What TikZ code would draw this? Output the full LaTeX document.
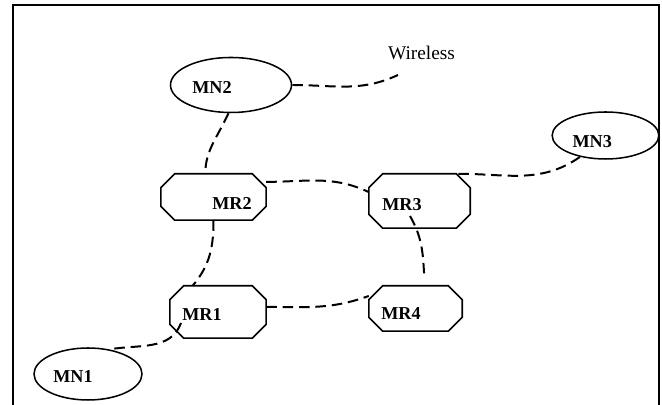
\documentclass[tikz,border=0pt]{standalone}
\usepackage{fontspec}
\setmainfont{Liberation Serif}
\usetikzlibrary{shapes.geometric}

\begin{document}
\begin{tikzpicture}[x=0.03cm,y=0.03cm,
    link/.style={line width=1.7pt,dash pattern=on 9pt off 5pt},
    router/.style={rectangle,inner sep=0pt},
    mobile/.style={ellipse,draw,line width=1.3pt,inner sep=0pt},
    tag/.style={font=\fontsize{15.5}{18}\selectfont\bfseries}]
    \useasboundingbox (0,0) rectangle (662,405);
    \draw[line width=1.3pt] (13,-5) -- (13,400) -- (659,400) -- (659,-5);
    % mobile nodes
    \node[mobile,minimum width=3.63cm,minimum height=1.65cm,
      label={[tag,xshift=-0.57cm,yshift=-0.06cm]center:MN2}] (mn2) at (231,320) {};
    \node[mobile,minimum width=3.2cm,minimum height=1.41cm,
      label={[tag,xshift=-0.4cm,yshift=-0.19cm]center:MN3}] (mn3) at (605.5,269.5) {};
    \node[mobile,minimum width=3.24cm,minimum height=1.56cm,
      label={[tag,xshift=-0.45cm,yshift=-0.09cm]center:MN1}] (mn1) at (88,31) {};
    % mesh routers
    \node[router,minimum width=3.15cm,minimum height=1.38cm,
      label={[tag,xshift=0.555cm,yshift=-0.18cm]center:MR2}] (mr2) at (213.5,208) {};
    \node[router,minimum width=3.03cm,minimum height=1.62cm,
      label={[tag,xshift=-0.525cm,yshift=-0.1cm]center:MR3}] (mr3) at (419.5,204) {};
    \node[router,minimum width=2.88cm,minimum height=1.56cm,
      label={[tag,xshift=-0.48cm,yshift=-0.09cm]center:MR1}] (mr1) at (218,93) {};
    \node[router,minimum width=2.79cm,minimum height=1.35cm,
      label={[tag,xshift=-0.435cm,yshift=-0.165cm]center:MR4}] (mr4) at (415.5,96.5) {};
    % octagon outlines
    \foreach \r in {mr1,mr2,mr3,mr4}
      \draw[line width=1.3pt] ([xshift=0.42cm]\r.north west) -- ([xshift=-0.42cm]\r.north east)
        -- ([yshift=-0.42cm]\r.north east) -- ([yshift=0.42cm]\r.south east)
        -- ([xshift=-0.42cm]\r.south east) -- ([xshift=0.42cm]\r.south west)
        -- ([yshift=0.42cm]\r.south west) -- ([yshift=-0.42cm]\r.north west) -- cycle;
    \node[font=\fontsize{16.5}{19}\selectfont] (wireless) at (421.5,352) {Wireless};
    \coordinate (wlend) at (398,330);
    \coordinate (mr3out) at (410,189);
    \coordinate (mr1out) at (181,82);
    % wireless links
    \draw[link] (mn2.east) to[out=0,in=-155] (wlend);
    \draw[link,shorten >=5pt] (mn2.-95) to[out=-115,in=85] (mr2.110);
    \draw[link] (mr2.16) to[out=0,in=155] (mr3.170);
    \draw[link] (mr3.35) to[out=0,in=-145] (mn3.-140);
    \draw[link] (mr2.south) to[out=-90,in=50] (mr1.134);
    \draw[link,shorten >=7pt] (mr3out) to[out=-60,in=95] (mr4.67);
    \draw[link] (mr1.6) to[out=0,in=-160] (mr4.165);
    \draw[link] (mr1out) to[out=-110,in=10] (mn1.49);
\end{tikzpicture}
\end{document}
